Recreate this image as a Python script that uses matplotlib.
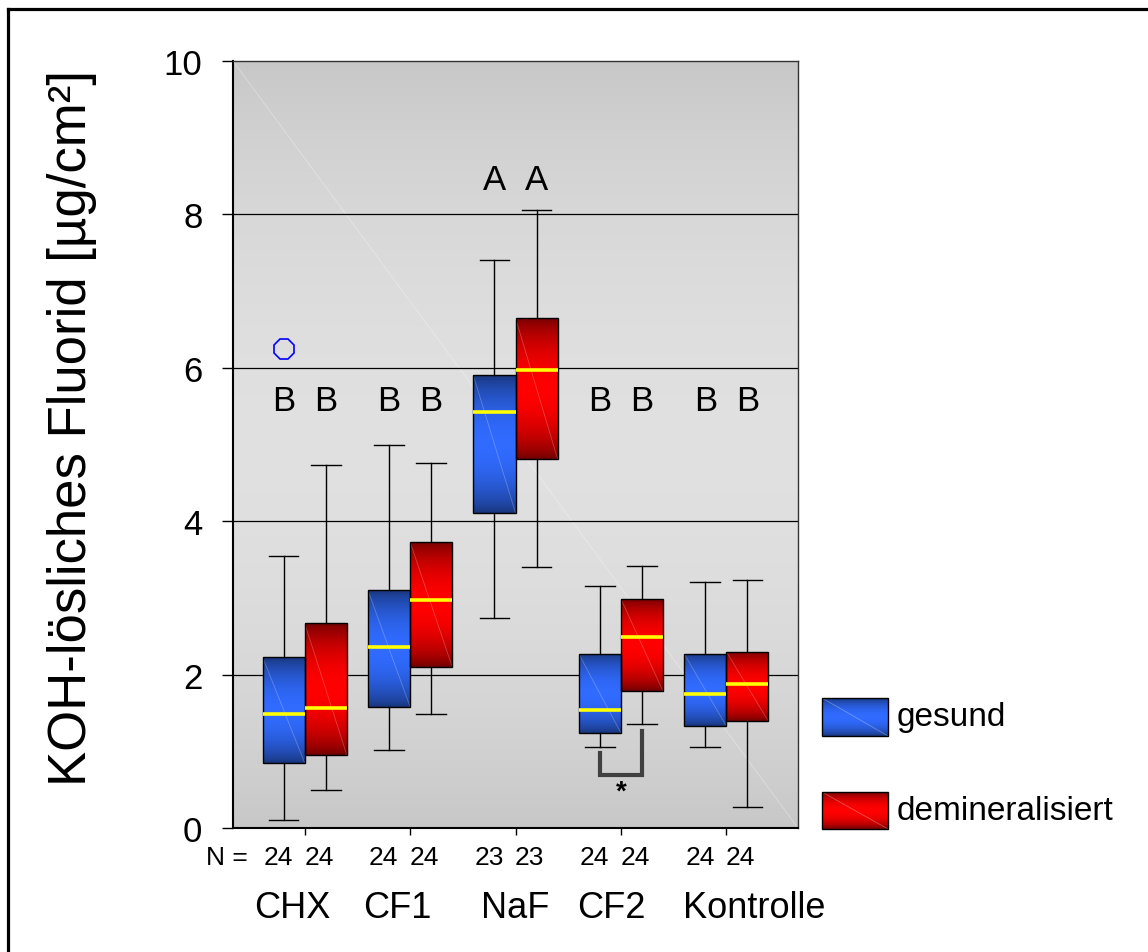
import numpy as np
import matplotlib.pyplot as plt
from matplotlib.lines import Line2D
from matplotlib.patches import Rectangle
from matplotlib import transforms

plt.rcParams['font.family'] = ['Liberation Sans', 'DejaVu Sans']

groups = ['CHX', 'CF1', 'NaF', 'CF2', 'Kontrolle']
n_gesund = [24, 24, 23, 24, 24]
n_demin = [24, 24, 23, 24, 24]

# gesund (blau)
g_whislo = [0.10, 1.02, 2.74, 1.06, 1.06]
g_q1 = [0.85, 1.58, 4.11, 1.24, 1.33]
g_med = [1.49, 2.36, 5.43, 1.54, 1.75]
g_q3 = [2.23, 3.10, 5.90, 2.27, 2.27]
g_whishi = [3.55, 4.99, 7.41, 3.15, 3.21]
g_fliers = [[6.24], [], [], [], []]

# demineralisiert (rot)
d_whislo = [0.50, 1.49, 3.40, 1.35, 0.28]
d_q1 = [0.95, 2.10, 4.81, 1.78, 1.39]
d_med = [1.56, 2.97, 5.97, 2.49, 1.88]
d_q3 = [2.67, 3.73, 6.65, 2.99, 2.30]
d_whishi = [4.73, 4.76, 8.06, 3.41, 3.23]
d_fliers = [[], [], [], [], []]

# Signifikanz-Buchstaben
letters = ['B', 'B', 'A', 'B', 'B']
letter_y = [5.57, 5.57, 8.45, 5.57, 5.57]

# Klammer bei CF2 (gesund vs. demineralisiert)
bracket_left_top = 0.98
bracket_bottom = 0.69
bracket_right_top = 1.27
star_y = 0.48

BLUE_DARK = np.array([0.09, 0.20, 0.46])
BLUE_BRIGHT = np.array([0.19, 0.42, 1.0])
RED_DARK = np.array([0.42, 0.0, 0.0])
RED_BRIGHT = np.array([1.0, 0.0, 0.0])


def grad_colors(dark, bright, n=256):
    t = np.linspace(0, 1, n)
    w = np.sin(np.pi * t) ** 0.7
    return dark + (bright - dark) * w[:, None]


def fill_box(ax, patch, dark, bright):
    v = patch.get_path().vertices
    x0, x1 = v[:, 0].min(), v[:, 0].max()
    y0, y1 = v[:, 1].min(), v[:, 1].max()
    img = ax.imshow(grad_colors(dark, bright)[:, None, :], extent=(x0, x1, y0, y1),
                    aspect='auto', origin='lower', interpolation='bilinear', zorder=1.9)
    img.set_clip_path(patch)
    ax.plot([x0, x1], [y1, y0], color='white', alpha=0.25, lw=0.6, zorder=1.95)


def stats(lo, q1, med, q3, hi, fl):
    return [dict(whislo=a, q1=b, med=c, q3=d, whishi=e, fliers=f)
            for a, b, c, d, e, f in zip(lo, q1, med, q3, hi, fl)]


fig = plt.figure(figsize=(11.48, 9.53), dpi=100)
ax = fig.add_axes([233 / 1148, 1 - 829 / 953, 565 / 1148, 767 / 953])

# grauer Hintergrund mit Verlauf
bg = np.linspace(0, 1, 256)
bgv = 0.78 + 0.10 * np.sin(np.pi * bg) ** 0.8
ax.imshow(np.repeat(bgv[:, None, None], 3, axis=2), extent=(0, 1, 0, 1),
          transform=ax.transAxes, aspect='auto', zorder=0, interpolation='bilinear')
ax.plot([0, 1], [1, 0], transform=ax.transAxes, color='white', alpha=0.35, lw=0.6, zorder=0.5)

for yv in [2, 4, 6, 8]:
    ax.axhline(yv, color='black', lw=0.9, zorder=1)

pos = np.arange(1, len(groups) + 1)
common = dict(widths=0.4, patch_artist=True, manage_ticks=False,
              whiskerprops=dict(color='black', lw=1.0),
              capprops=dict(color='black', lw=1.0),
              medianprops=dict(color='#ffff00', lw=2.6, zorder=3),
              boxprops=dict(facecolor='none', edgecolor='black', lw=1.0))
bg_ = ax.bxp(stats(g_whislo, g_q1, g_med, g_q3, g_whishi, g_fliers), positions=pos - 0.2,
             flierprops=dict(marker='8', ms=16, mfc='none', mec='#0000ff', mew=1.2), **common)
bd_ = ax.bxp(stats(d_whislo, d_q1, d_med, d_q3, d_whishi, d_fliers), positions=pos + 0.2, **common)
for p in bg_['boxes']:
    fill_box(ax, p, BLUE_DARK, BLUE_BRIGHT)
for p in bd_['boxes']:
    fill_box(ax, p, RED_DARK, RED_BRIGHT)
for c in bg_['caps'] + bd_['caps']:
    xd = c.get_xdata()
    m = (xd[0] + xd[1]) / 2
    c.set_xdata([m - 0.14, m + 0.14])

for i, (l, yv) in enumerate(zip(letters, letter_y)):
    for dx in (-0.2, 0.2):
        ax.text(pos[i] + dx, yv, l, ha='center', va='center', fontsize=25)

# Klammer
ax.plot([pos[3] - 0.2, pos[3] - 0.2, pos[3] + 0.2, pos[3] + 0.2],
        [bracket_left_top, bracket_bottom, bracket_bottom, bracket_right_top],
        color='#404040', lw=3, zorder=3, solid_joinstyle='miter')
ax.text(pos[3], star_y, '*', ha='center', va='center', fontsize=20, fontweight='bold')

ax.set_xlim(0.32, 5.68)
ax.set_ylim(0, 10)
ax.set_yticks([0, 2, 4, 6, 8, 10])
ax.set_xticks(pos)
ax.set_xticklabels([])
ax.tick_params(axis='y', length=8, width=1, pad=14, labelsize=25, direction='out')
ax.tick_params(axis='x', length=5, width=1, direction='out')
for s in ['left', 'bottom']:
    ax.spines[s].set_linewidth(1.5)
for s in ['top', 'right']:
    ax.spines[s].set_linewidth(1.0)
    ax.spines[s].set_color('#333333')

# N-Zeilen und Gruppennamen
tr = transforms.blended_transform_factory(ax.transData, ax.transAxes)
ax.text(0.46, -0.038, 'N =', transform=tr, ha='right', va='center', fontsize=19)
for i in range(len(groups)):
    ax.text(pos[i] - 0.25, -0.038, str(n_gesund[i]), transform=tr, ha='center', va='center', fontsize=19)
    ax.text(pos[i] + 0.135, -0.038, str(n_demin[i]), transform=tr, ha='center', va='center', fontsize=19)
label_shift = [-0.12, -0.12, 0.0, -0.09, 0.26]
for i, g in enumerate(groups):
    ax.text(pos[i] + label_shift[i], -0.103, g, transform=tr, ha='center', va='center', fontsize=26)

fig.text(72 / 1148, 1 - 428 / 953, 'KOH-lösliches Fluorid [µg/cm²]', rotation=90,
         ha='center', va='center', fontsize=38)

# Legende und Rahmen auf einer Overlay-Achse in Pixelkoordinaten
lax = fig.add_axes([0, 0, 1, 1])
lax.set_xlim(0, 1148)
lax.set_ylim(953, 0)
lax.axis('off')
for (y0, y1), dark, bright, lab in [((699, 737), BLUE_DARK, BLUE_BRIGHT, 'gesund'),
                                     ((793, 830), RED_DARK, RED_BRIGHT, 'demineralisiert')]:
    r = Rectangle((822, y0), 66, y1 - y0, facecolor='none', edgecolor='black', lw=1.0, zorder=3)
    lax.add_patch(r)
    img = lax.imshow(grad_colors(dark, bright)[:, None, :], extent=(822, 888, y1, y0),
                     aspect='auto', origin='upper', interpolation='bilinear', zorder=2)
    img.set_clip_path(r)
    lax.plot([822, 888], [y0, y1], color='white', alpha=0.3, lw=0.6, zorder=2.5)
    lax.text(897, (y0 + y1) / 2, lab, ha='left', va='center', fontsize=24)
lax.set_xlim(0, 1148)
lax.set_ylim(953, 0)
lax.add_line(Line2D([8, 8], [10, 953], color='black', lw=2.3))
lax.add_line(Line2D([8, 1148], [10, 10], color='black', lw=2.3))

fig.savefig('out.png', dpi=100)
